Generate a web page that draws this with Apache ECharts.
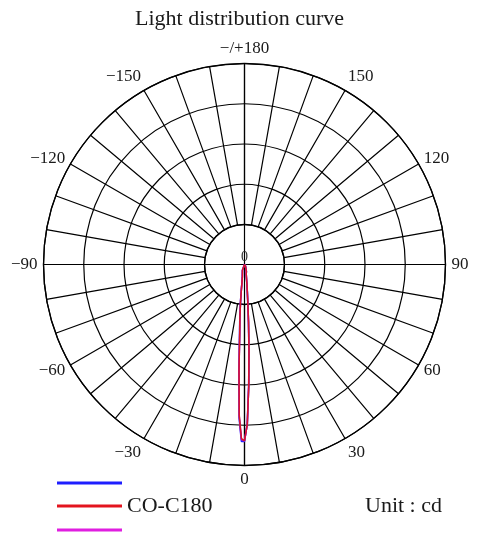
<!DOCTYPE html>
<html>
<head>
<meta charset="utf-8">
<script src="https://cdn.jsdelivr.net/npm/echarts@6/dist/echarts.min.js"></script>
<style>
html,body{margin:0;padding:0;background:#fff;}
#c{width:479px;height:548px;}
</style>
</head>
<body>
<div id="c"></div>
<script>
// ---- data ----
const angles   = [-180, -90, -40, -30, -20, -15, -10, -8, -7, -6, -5, -4, -3, -2, -1, 0, 1, 2, 3, 4, 5, 6, 7, 8, 10, 15, 20, 30, 40, 90, 180];
const blueCd   = [0, 0, 0, 5, 15, 20, 32, 47, 67, 98, 134, 176, 266, 382, 440, 440, 396, 300, 212, 142, 93, 66, 49, 36, 24, 18, 14, 5, 0, 0, 0];
const redCd    = [0, 0, 0, 5, 15, 20, 30, 45, 65, 95, 130, 170, 260, 375, 433, 438, 398, 303, 214, 144, 95, 67, 50, 37, 25, 18, 15, 5, 0, 0, 0];
const magentaCd= [0, 0, 0, 5, 15, 20, 31, 46, 66, 97, 132, 173, 263, 378, 436, 439, 397, 301, 213, 143, 94, 66, 49, 36, 24, 18, 14, 5, 0, 0, 0];
const angleTicks = [-180, -150, -120, -90, -60, -30, 0, 30, 60, 90, 120, 150, 180];
const seriesNames = ['C0', 'CO-C180', 'C90'];
const titleText = 'Light distribution curve';
const unitText = 'Unit : cd';

const CX = 244.5, CY = 264.5, R = 201, R0 = 40;
const FONT = '"Liberation Serif", "Times New Roman", serif';

function pairs(vals){ return vals.map((v,i)=>[v, angles[i]]); }

const chart = echarts.init(document.getElementById('c'), null, {renderer:'canvas'});
const blackLine = {color:'#000', width:1.2};

const option = {
  backgroundColor:'#fff',
  animation:false,
  title:{
    text:titleText, left:'center', top:8, padding:[0,0,0,10],
    textStyle:{fontFamily:FONT, fontWeight:'normal', fontSize:22, color:'#1a1a1a', lineHeight:22}
  },
  legend:[
    {data:[seriesNames[0]], left:57, top:472, padding:0, orient:'vertical', icon:'rect', itemWidth:65, itemHeight:3, selectedMode:false,
     formatter:()=>' ', textStyle:{fontFamily:FONT, fontSize:22, lineHeight:22}},
    {data:[seriesNames[1]], left:57, top:495, padding:0, orient:'vertical', icon:'rect', itemWidth:65, itemHeight:3, selectedMode:false, itemGap:5,
     textStyle:{fontFamily:FONT, fontSize:22, lineHeight:22, color:'#1a1a1a'}},
    {data:[seriesNames[2]], left:57, top:519, padding:0, orient:'vertical', icon:'rect', itemWidth:65, itemHeight:3, selectedMode:false,
     formatter:()=>' ', textStyle:{fontFamily:FONT, fontSize:22, lineHeight:22}}
  ],
  polar:[
    {center:[CX,CY], radius:[R0,R]},
    {center:[CX,CY], radius:[0,R]},
    {center:[CX,CY], radius:[0,R]}
  ],
  angleAxis:[
    {polarIndex:0, type:'value', min:-180, max:180, interval:10, startAngle:90, clockwise:false,
     axisLine:{show:true, lineStyle:{color:'#000', width:1.3}}, axisTick:{show:false}, axisLabel:{show:false},
     splitLine:{show:true, lineStyle:blackLine}},
    {polarIndex:1, type:'value', min:-180, max:180, interval:30, startAngle:90, clockwise:false,
     axisLine:{show:false}, axisTick:{show:false}, splitLine:{show:false},
     axisLabel:{show:true, margin:6, fontFamily:FONT, fontSize:17, color:'#1a1a1a',
       rich:{s:{fontFamily:FONT, fontSize:17, color:'#1a1a1a', lineHeight:5}},
       formatter:(v)=>{
         const t = Math.abs(v)===180 ? '\u2212/+180' : (v<0 ? '\u2212'+Math.abs(v) : String(v));
         return (Math.abs(v)===60 || Math.abs(v)===120) ? '{s|'+t+'}' : t;
       }}},
    {polarIndex:2, type:'value', min:-180, max:180, interval:90, startAngle:90, clockwise:false,
     axisLine:{show:false}, axisTick:{show:false}, axisLabel:{show:false},
     splitLine:{show:true, lineStyle:blackLine}}
  ],
  radiusAxis:[
    {polarIndex:0, type:'value', min:0, max:4, interval:1,
     axisLine:{show:false}, axisTick:{show:false}, axisLabel:{show:false},
     splitLine:{show:true, lineStyle:blackLine}},
    {polarIndex:1, type:'value', min:0, max:500, interval:100,
     axisLine:{show:false}, axisTick:{show:false}, axisLabel:{show:false}, splitLine:{show:false}},
    {polarIndex:2, type:'value', min:0, max:1,
     axisLine:{show:false}, axisTick:{show:false}, axisLabel:{show:false}, splitLine:{show:false}}
  ],
  series:[
    {name:seriesNames[0], type:'line', coordinateSystem:'polar', polarIndex:1, data:pairs(blueCd),
     showSymbol:false, symbol:'none', color:'#1e1eff', lineStyle:{width:1.6, color:'#1e1eff'}, z:3},
    {name:seriesNames[2], type:'line', coordinateSystem:'polar', polarIndex:1, data:pairs(magentaCd),
     showSymbol:false, symbol:'none', color:'#e01ee0', lineStyle:{width:1.6, color:'#a01ec0'}, z:4},
    {name:seriesNames[1], type:'line', coordinateSystem:'polar', polarIndex:1, data:pairs(redCd),
     showSymbol:false, symbol:'none', color:'#e3141e', lineStyle:{width:1.5, color:'#dc1428'}, z:5}
  ],
  graphic:[
    {type:'text', x:CX, y:CY-7, z:10, style:{text:'0', font:'14px '+FONT, fill:'#333', align:'center', verticalAlign:'middle'}},
    {type:'text', x:365, y:506, style:{text:unitText, font:'22px '+FONT, fill:'#1a1a1a', align:'left', verticalAlign:'middle'}}
  ]
};
chart.setOption(option);
</script>
</body>
</html>
